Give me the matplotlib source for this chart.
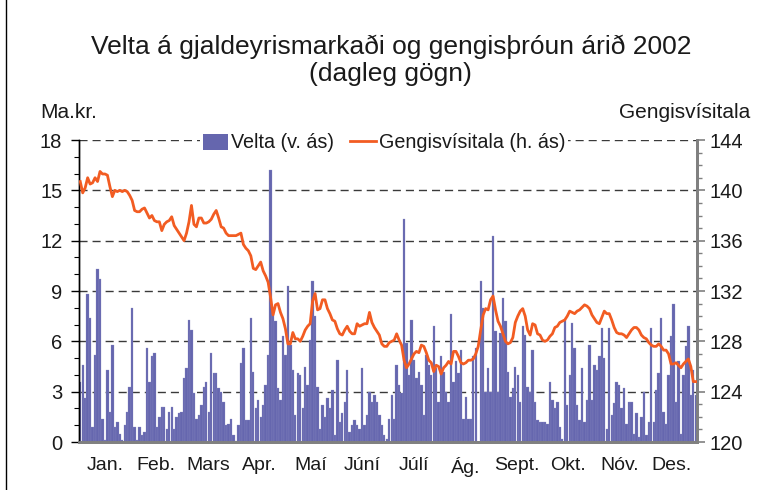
import matplotlib
matplotlib.use("Agg")
import matplotlib.pyplot as plt
from matplotlib.lines import Line2D
from matplotlib.patches import Patch
from matplotlib.ticker import MultipleLocator

plt.rcParams["font.family"] = ["Liberation Sans", "DejaVu Sans"]

# Velta á gjaldeyrismarkaði, ma.kr. (vinstri ás), einn stöpull á viðskiptadag
velta = [
    3.6, 4.6, 2.6, 8.8, 7.4, 0.9, 5.2, 10.3, 9.7, 1.4,
    0.1, 4.3, 1.8, 5.8, 0.9, 1.2, 0.5, 0.1, 1.0, 1.8,
    3.3, 8.0, 0.9, 0.1, 0.9, 0.4, 0.6, 5.6, 3.6, 5.1,
    5.3, 0.9, 1.5, 2.1, 2.1, 0.8, 1.8, 2.1, 0.8, 1.5,
    1.7, 1.8, 3.8, 4.4, 7.3, 6.7, 2.9, 1.4, 1.6, 2.2,
    3.3, 3.6, 1.8, 5.3, 4.1, 4.1, 3.2, 3.0, 2.4, 1.0,
    1.1, 1.4, 0.4, 0.05, 1.0, 4.7, 5.6, 1.3, 1.3, 7.4,
    4.2, 2.0, 2.5, 1.5, 2.2, 3.4, 5.2, 16.2, 7.6, 7.2,
    3.2, 2.5, 6.3, 5.2, 9.3, 5.8, 4.3, 1.6, 4.1, 4.0,
    2.0, 4.5, 3.4, 6.1, 9.6, 7.5, 3.3, 0.8, 2.2, 1.5,
    2.6, 2.0, 3.1, 0.4, 4.9, 1.2, 1.7, 2.4, 4.3, 0.6,
    1.0, 1.3, 1.0, 0.8, 4.4, 1.0, 1.6, 3.0, 2.4, 2.8,
    2.4, 1.6, 1.0, 0.4, 0.2, 1.4, 2.8, 1.4, 4.6, 3.4,
    2.9, 13.3, 5.9, 4.0, 7.3, 4.9, 3.8, 4.2, 3.4, 1.6,
    5.2, 4.6, 4.0, 6.9, 4.4, 2.4, 5.1, 4.2, 3.0, 2.4,
    7.6, 3.6, 4.8, 4.1, 5.5, 1.4, 2.7, 1.4, 1.4, 5.1,
    5.6, 0.0, 9.6, 8.0, 3.0, 4.4, 3.0, 12.3, 6.6, 3.0,
    6.5, 8.6, 7.2, 4.2, 2.7, 3.2, 4.5, 4.0, 2.4, 6.9,
    6.4, 3.3, 3.0, 5.5, 2.4, 1.3, 1.2, 1.2, 1.2, 1.1,
    3.6, 2.5, 2.0, 2.4, 0.9, 0.2, 7.3, 2.2, 4.0, 7.1,
    5.6,
    2.2, 1.3, 4.4, 1.2, 2.5, 5.8, 2.5, 4.6, 4.3, 5.1,
    6.8, 5.0, 0.8, 6.8, 1.6, 2.3, 3.6, 3.4, 2.0, 3.2,
    1.1, 2.4, 2.4, 0.5, 1.7, 0.3, 1.5, 3.0, 0.4, 1.2,
    6.8, 1.2, 3.1, 4.1, 7.4, 1.8, 1.1, 4.0, 6.3, 8.2,
    2.4, 4.8, 0.5, 4.0, 5.7, 6.9, 2.8, 4.3, 2.8,
]

# Gengisvísitala (hægri ás)
gengi = [
    140.7, 139.8, 140.2, 141.0, 140.5, 140.6, 141.0, 140.7, 141.5, 141.3,
    141.3, 141.2, 140.3, 139.5, 140.0, 139.9, 140.0, 139.9, 140.0, 139.9,
    139.6, 139.2, 138.4, 138.3, 138.3, 138.5, 138.6, 138.2, 137.8, 138.0,
    137.6, 137.5, 137.5, 136.8, 137.3, 137.5, 137.6, 137.9, 137.2, 136.9,
    136.6, 136.3, 136.0, 136.6, 137.5, 138.8, 137.3, 137.1, 137.8, 137.8,
    137.4, 137.4, 137.5, 137.7, 138.1, 138.4, 137.8, 137.1, 137.0, 136.6,
    136.4, 136.4, 136.4, 136.4, 136.5, 136.6, 135.7, 135.4, 135.2, 134.8,
    133.8, 133.7, 134.0, 134.3, 133.6, 133.2, 132.7, 131.5, 130.1, 130.9,
    131.0, 130.3, 129.8, 129.0, 127.8, 127.8, 128.7, 128.2, 128.2, 128.0,
    128.4, 128.9, 129.2, 129.4, 131.2, 131.8, 130.5, 130.6, 131.3, 131.3,
    130.6, 130.2, 129.7, 129.6, 129.0, 128.6, 128.5, 128.9, 129.2, 128.8,
    128.6, 128.6, 129.4, 129.2, 129.3, 129.4, 129.4, 130.3, 129.5, 129.1,
    128.8, 128.5, 127.8, 127.6, 127.6, 127.9, 128.0, 128.1, 128.6, 128.1,
    127.7, 126.5, 125.9, 126.2, 126.6, 127.0, 127.2, 127.1, 127.7, 127.6,
    127.1, 126.5, 126.3, 125.6, 126.1, 126.0, 125.4, 125.9, 126.1, 126.4,
    126.2, 127.2, 127.2, 126.8, 126.3, 126.2, 126.3, 126.5, 126.5, 126.6,
    127.0, 127.6, 128.9, 130.1, 130.6, 130.5, 131.3, 131.6, 130.5, 129.6,
    129.2, 128.6, 128.0, 127.8, 127.9, 128.3, 129.5, 130.0, 130.4, 130.6,
    130.0, 128.9, 128.5, 129.4, 129.3, 128.6, 128.5, 128.1, 128.0, 128.1,
    128.4, 128.6, 129.1, 129.2, 129.5, 129.6, 129.7, 130.0, 130.4, 130.3,
    130.2,
    130.4, 130.5, 130.7, 130.9, 130.8, 130.6, 130.1, 129.8, 129.5, 129.4,
    129.9, 130.4, 130.2, 130.2, 129.7, 129.1, 128.7, 128.6, 128.6, 128.5,
    128.3, 128.6, 128.9, 129.1, 129.1, 128.9, 128.5, 128.3, 128.2, 127.9,
    127.7, 127.6, 127.6, 127.8, 127.6, 127.3, 127.3, 127.0, 126.2, 126.2,
    126.3, 126.1, 125.9, 126.2, 126.4, 126.6, 126.0, 124.8, 124.8,
]

manudir = ["Jan.", "Feb.", "Mars", "Apr.", "Maí", "Júní", "Júlí",
           "Ág.", "Sept.", "Okt.", "Nóv.", "Des."]

BAR = "#6566ae"
LINE = "#f25c22"
TXT = "#1a1a1a"

n = len(velta)
x = list(range(n))

fig = plt.figure(figsize=(7.62, 4.90), dpi=100)
ax = fig.add_axes([79 / 762, 1 - 442 / 490, 618 / 762, 302 / 490])
ax2 = ax.twinx()

ax.bar(x, velta, width=0.96, color=BAR, edgecolor="#8e8fc6",
       linewidth=0.2, zorder=2)
ax2.plot(x, gengi, color=LINE, linewidth=2.0, zorder=3)

ax.set_xlim(-0.5, n - 0.5)
ax.set_ylim(0, 18)
ax2.set_ylim(120, 144)

ax.yaxis.set_major_locator(MultipleLocator(3))
ax.yaxis.set_minor_locator(MultipleLocator(1))
ax2.yaxis.set_major_locator(MultipleLocator(4))
ax2.yaxis.set_minor_locator(MultipleLocator(1))

ax.set_axisbelow(True)
ax.yaxis.grid(True, which="major", color="#3a3a3a", linewidth=1.0,
              linestyle=(0, (5.8, 3.6)))

month_pos = [(m + 0.5) * n / 12 - 0.5 for m in range(12)]
ax.set_xticks(month_pos)
ax.set_xticklabels(manudir)
ax.tick_params(axis="x", length=0, pad=11, labelsize=14, colors=TXT)

ax.tick_params(axis="y", which="major", direction="out", length=6,
               width=1, color="black", labelsize=14.5, labelcolor=TXT, pad=6)
ax.tick_params(axis="y", which="minor", direction="out", length=3.5,
               width=0.8, color="black")
ax2.tick_params(axis="y", which="major", direction="out", length=6,
                width=1.2, color="#808080", labelsize=14.5, labelcolor=TXT, pad=3)
ax2.tick_params(axis="y", which="minor", direction="out", length=3.5,
                width=1.0, color="#808080")

for a in (ax, ax2):
    a.spines["top"].set_visible(False)
    a.spines["left"].set_color("black")
    a.spines["left"].set_linewidth(1.0)
    a.spines["right"].set_color("#808080")
    a.spines["right"].set_linewidth(2.0)
    a.spines["bottom"].set_color("#808080")
    a.spines["bottom"].set_linewidth(2.0)

fig.text(0.513, 1 - 60 / 490,
         "Velta á gjaldeyrismarkaði og gengisþróun árið 2002\n(dagleg gögn)",
         ha="center", va="center", fontsize=19, color=TXT, linespacing=1.15)
fig.text(40 / 762, 1 - 112 / 490, "Ma.kr.", ha="left", va="center",
         fontsize=15, color=TXT)
fig.text(750 / 762, 1 - 112 / 490, "Gengisvísitala", ha="right", va="center",
         fontsize=15, color=TXT)

handles = [Patch(facecolor=BAR, edgecolor="none"),
           Line2D([0], [0], color=LINE, linewidth=2.0)]
labels = ["Velta (v. ás)", "Gengisvísitala (h. ás)"]
leg = fig.legend(handles, labels, loc="center",
                 bbox_to_anchor=(384 / 762, 1 - 143 / 490), ncol=2,
                 fontsize=14.2, frameon=True, facecolor="white",
                 edgecolor="none", framealpha=1, handlelength=1.3,
                 handleheight=0.9, handletextpad=0.15, columnspacing=0.8,
                 borderpad=0.15, labelcolor=TXT)
leg.get_frame().set_boxstyle("square", pad=0.0)

fig.add_artist(Line2D([6 / 762, 6 / 762], [0, 1], color="black",
                      linewidth=1.0, transform=fig.transFigure))

fig.savefig("out.png", dpi=100)
